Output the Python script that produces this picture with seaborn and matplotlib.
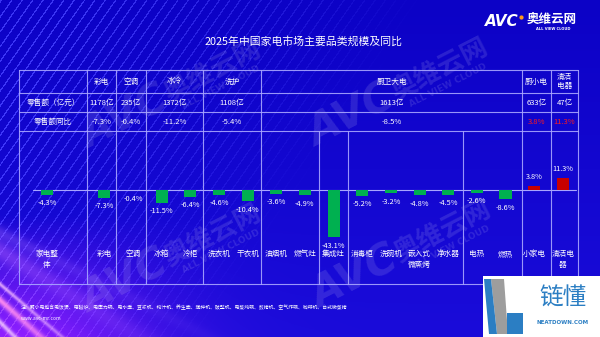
import numpy as np
import pandas as pd
import matplotlib
matplotlib.use("Agg")
import matplotlib.pyplot as plt
import seaborn as sns
from matplotlib.patches import Rectangle, Polygon

sns.set_theme(style="white")
plt.rcParams["font.family"] = ["Noto Sans CJK SC", "DejaVu Sans"]
plt.rcParams["axes.unicode_minus"] = False

TITLE = "2025年中国家电市场主要品类规模及同比"

# table header groups
groups = ["彩电", "空调", "冰冷", "洗护", "厨卫大电", "厨小电", "清洁电器"]
group_sales = [1178, 235, 1372, 1108, 1613, 633, 47]          # 亿元
group_yoy = [-7.3, -0.4, -11.2, -5.4, -8.5, 3.8, 11.3]        # %
row_labels = ["零售额（亿元）", "零售额同比"]

# individual categories in the bar chart
categories = ["家电整体", "彩电", "空调", "冰箱", "冷柜", "洗衣机", "干衣机",
              "油烟机", "燃气灶", "集成灶", "消毒柜", "洗碗机", "嵌入式微蒸烤",
              "净水器", "电热", "燃热", "小家电", "清洁电器"]
category_yoy = [-4.3, -7.3, -0.4, -11.5, -6.4, -4.6, -10.4, -3.6, -4.9, -43.1,
                -5.2, -3.2, -4.8, -4.5, -2.6, -8.6, 3.8, 11.3]

NOTE = ("注：厨小电包含电饭煲、电磁炉、电压力锅、电水壶、豆浆机、榨汁机、养生壶、"
        "搅拌机、破壁机、电蒸炖锅、煎烤机、空气炸锅、咖啡机、台式微蒸烤")
SITE = "www.avc-mr.com"

W, H = 600, 337
GREEN, RED = "#00b050", "#c80000"
LINE = "#a9a6ff"

fig = plt.figure(figsize=(W / 100, H / 100), dpi=100)
bg = fig.add_axes([0, 0, 1, 1])
bg.set_xlim(0, W)
bg.set_ylim(H, 0)
bg.axis("off")

# ---- background: deep blue with faint diagonal stripes and a violet glow
yy, xx = np.mgrid[0:H, 0:W].astype(float)
img = np.zeros((H, W, 3))
img[..., 0] = 12 + 14 * (yy / H)
img[..., 1] = 2 + 10 * (yy / H)
img[..., 2] = 198 + 20 * (yy / H)

theta = np.deg2rad(55)
s = xx * np.sin(theta) + yy * np.cos(theta)
stripe = ((s % 8.5) < 1.3).astype(float)
fade = np.clip(1.25 - xx / 340 - yy / 520, 0, 1)
for c, amt in zip(range(3), (45, 50, 45)):
    img[..., c] += stripe * fade * amt

glow = np.exp(-(xx / 150) ** 2) * np.clip((yy - 215) / 122, 0, 1)
img[..., 0] += 120 * glow
img[..., 1] += 20 * glow
img[..., 2] += 40 * glow
for y0, k, w, col, a in [(300, 0.9, 3.5, (255, 140, 240), 0.95),
                         (284, 0.85, 2.0, (255, 200, 255), 0.75),
                         (250, 0.62, 10, (170, 90, 255), 0.5),
                         (322, 1.0, 2.5, (255, 220, 255), 0.75),
                         (232, 0.5, 6, (150, 100, 255), 0.35)]:
    d = np.abs(yy - (y0 + k * xx)) / np.sqrt(1 + k * k)
    band = np.exp(-(d / w) ** 2) * np.exp(-xx / 120) * a
    for c in range(3):
        img[..., c] = img[..., c] * (1 - band) + col[c] * band
img = np.clip(img / 255, 0, 1)
bg.imshow(img, extent=(0, W, H, 0), aspect="auto", zorder=0)


# ---- faint brand watermarks
def watermark(cx, cy):
    kw = dict(color="white", alpha=0.12, rotation=27, ha="center",
              va="center", rotation_mode="anchor", weight="bold", zorder=1)
    bg.text(cx, cy, "奥维云网", fontsize=19, **kw)
    bg.text(cx + 8, cy + 15, "ALL VIEW CLOUD", fontsize=6.5,
            family="DejaVu Sans", **kw)
    bg.text(cx - 88, cy + 46, "AVC", fontsize=30, family="DejaVu Sans",
            style="italic", **kw)


for cx, cy in [(213, 72), (440, 70), (213, 236), (443, 232)]:
    watermark(cx, cy)

# ---- title
bg.text(304, 41, TITLE, color="white", fontsize=7.8, ha="center",
        va="center", zorder=5)

# ---- logo top right
bg.text(485, 21, "AVC", color="white", fontsize=11, weight="bold",
        family="DejaVu Sans", style="italic", ha="left", va="center", zorder=5)
bg.add_patch(plt.Circle((521.5, 17.5), 1.4, color="#ff9a1a", zorder=6))
bg.text(527, 19.5, "奥维云网", color="white", fontsize=9, weight="bold",
        ha="left", va="center", zorder=5)
bg.text(553, 28.5, "ALL VIEW CLOUD", color="white", fontsize=2.6,
        family="DejaVu Sans", weight="bold", ha="center", va="center", zorder=5)

# ---- table grid
left, right = 19, 578
row_y = [70, 93, 112, 131, 284]
top_cols = [19, 87, 116, 146, 203, 261, 522, 551, 578]
low_cols = [319, 348, 463]
lkw = dict(color=LINE, lw=0.8, alpha=0.9, zorder=3)
for y in row_y:
    bg.plot([left, right], [y, y], **lkw)
for x in top_cols:
    bg.plot([x, x], [row_y[0], row_y[-1]], **lkw)
for x in low_cols:
    bg.plot([x, x], [row_y[3], row_y[-1]], **lkw)


def wrap(text, n):
    return "\n".join(text[i:i + n] for i in range(0, len(text), n))


tkw = dict(color="white", fontsize=5.5, ha="center", va="center", zorder=5)
header_y, sales_y, yoy_y = 81.5, 102.5, 121.5
bg.text(53, sales_y, row_labels[0], **tkw)
bg.text(53, yoy_y, row_labels[1], **tkw)
for i, (g, sales, yoy) in enumerate(zip(groups, group_sales, group_yoy)):
    x0, x1 = top_cols[i + 1], top_cols[i + 2]
    cx = (x0 + x1) / 2
    label = wrap(g, 2) if (x1 - x0) < 40 and len(g) > 3 else g
    bg.text(cx, header_y, label, linespacing=1.3, **tkw)
    bg.text(cx, sales_y, f"{sales}亿", **tkw)
    kw = dict(tkw)
    if yoy > 0:
        kw["color"] = "#ff1a1a"
    bg.text(cx, yoy_y, f"{yoy:.1f}%", **kw)

# ---- bar chart of year-on-year change
df = pd.DataFrame({"品类": categories, "同比": category_yoy})
df["方向"] = np.where(df["同比"] >= 0, "up", "down")
order = [categories[0], " "] + categories[1:]   # spacer slot after 家电整体

ax = fig.add_axes([19 / W, 1 - 284 / H, 559 / W, 153 / H])
sns.barplot(data=df, x="品类", y="同比", hue="方向", order=order,
            hue_order=["down", "up"], palette={"down": GREEN, "up": RED},
            width=0.42, dodge=False, errorbar=None, saturation=1,
            legend=False, ax=ax, zorder=4, linewidth=0, edgecolor="none")
ax.set_xlim(-0.977, 18.53)
ax.set_ylim(-85.45, 53.6)
ax.set_facecolor("none")
ax.axis("off")
ax.axhline(0, xmin=(33 - 19) / 559, xmax=(576 - 19) / 559, color=LINE,
           lw=0.8, zorder=3)
for cont in ax.containers:
    ax.bar_label(cont, labels=[f"{v:.1f}%" for v in cont.datavalues],
                 padding=3.2, color="white", fontsize=5.3, zorder=5)

xt = ax.get_xaxis_transform()
for cat in categories:
    ax.text(order.index(cat), (284 - 250) / 153, wrap(cat, 3), transform=xt,
            color="white", fontsize=5.5, ha="center", va="top",
            linespacing=1.55, zorder=5)

# ---- footnote
bg.text(21, 307, NOTE, color="white", fontsize=3.5, ha="left", va="center",
        zorder=5)
bg.text(21, 318, SITE, color="white", fontsize=3.5, ha="left", va="center",
        zorder=5)

# ---- corner badge
bg.add_patch(Rectangle((483, 276), 117, 61, facecolor="white",
                       edgecolor="none", zorder=6))
bg.add_patch(Polygon([(491, 279), (504, 279), (508, 334), (497, 334)],
                     closed=True, facecolor="#9d9d9d", edgecolor="none",
                     zorder=7))
bg.add_patch(Polygon([(484, 279), (491, 279), (497, 334), (489, 334)],
                     closed=True, facecolor="#2b7ec3", edgecolor="none",
                     zorder=7))
bg.add_patch(Rectangle((507, 313), 16, 21, facecolor="#2b7ec3",
                       edgecolor="none", zorder=7))
bg.text(563, 298, "链懂", color="#2b7ec3", fontsize=17, ha="center",
        va="center", zorder=8)
bg.text(563, 322, "NEATDOWN.COM", color="#2b7ec3", fontsize=4,
        family="DejaVu Sans", weight="bold", ha="center", va="center",
        zorder=8)

fig.savefig("out.png", dpi=100)
